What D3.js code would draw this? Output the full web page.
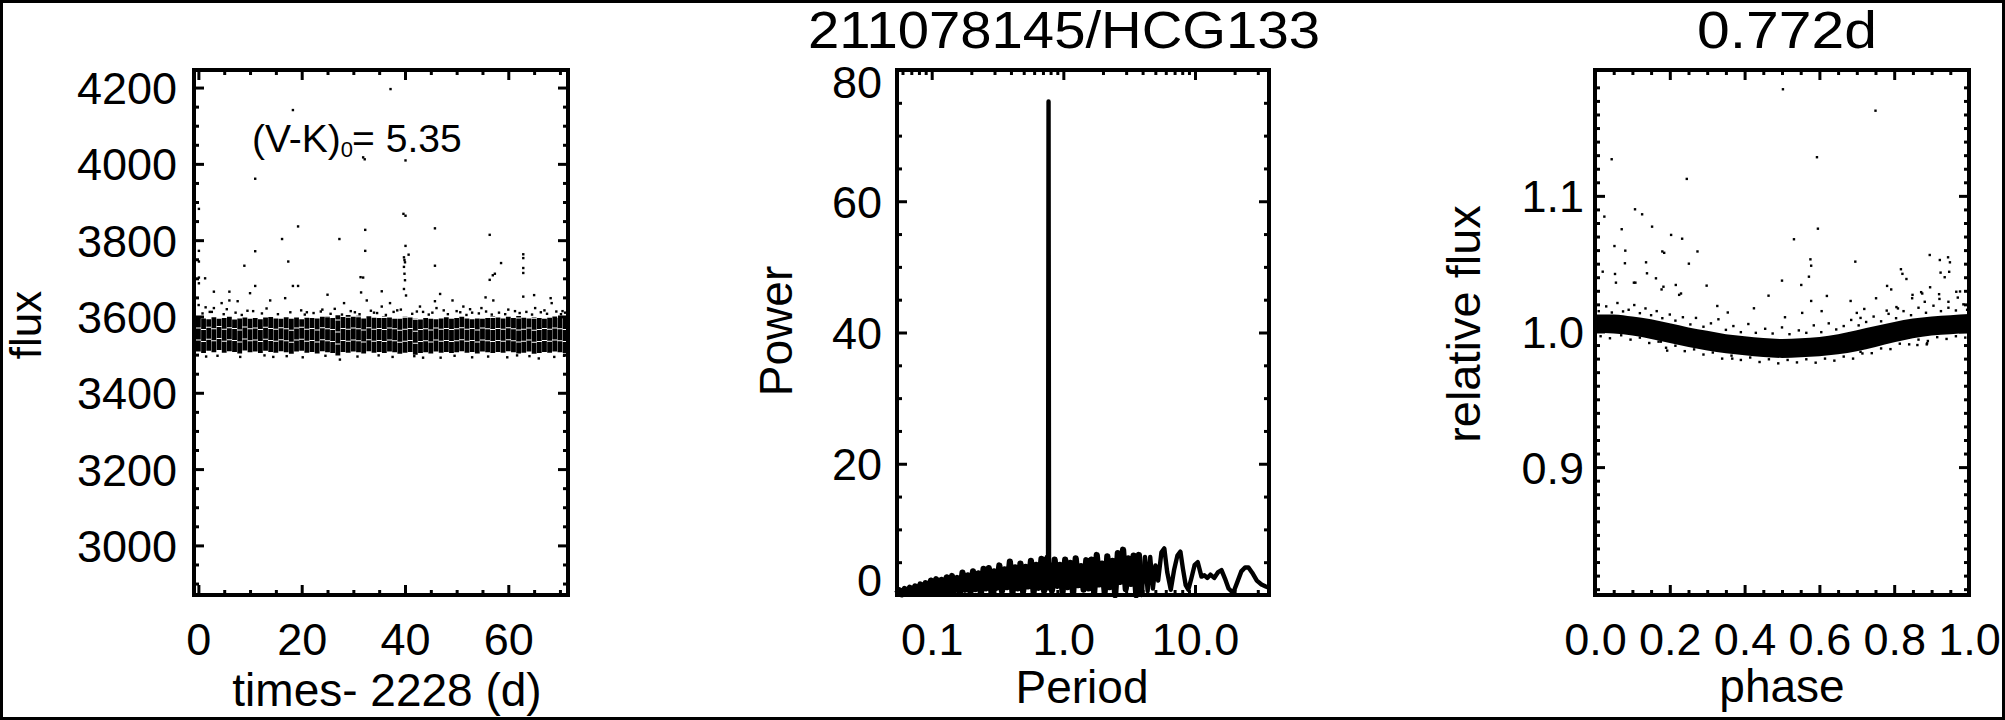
<!DOCTYPE html>
<html><head><meta charset="utf-8">
<script src="https://cdn.jsdelivr.net/npm/d3@7"></script>
<style>
html,body{margin:0;padding:0;background:#fff;}
svg{display:block;}
</style></head><body>
<svg id="c" width="2005" height="720"></svg>
<script>
// ---------------- DATA ----------------
// Panel 1: light curve (flux vs time-2228 d). Dense band per day (low/high edge), plus stray points.
const lcDay = [0,1,2,3,4,5,6,7,8,9,10,11,12,13,14,15,16,17,18,19,20,21,22,23,24,25,26,27,28,29,30,31,32,33,34,35,36,37,38,39,40,41,42,43,44,45,46,47,48,49,50,51,52,53,54,55,56,57,58,59,60,61,62,63,64,65,66,67,68,69,70,71];
const lcBandHi = [3597,3595,3593,3598,3594,3596,3599,3592,3595,3597,3594,3596,3593,3597,3599,3595,3594,3598,3596,3597,3593,3598,3596,3595,3599,3601,3598,3603,3600,3604,3599,3602,3597,3601,3598,3596,3600,3597,3594,3596,3600,3597,3595,3592,3596,3594,3593,3595,3598,3594,3596,3599,3595,3593,3597,3594,3596,3600,3597,3595,3599,3596,3601,3597,3595,3598,3596,3594,3598,3600,3596,3599];
const lcBandLo = [3508,3504,3510,3506,3512,3505,3509,3507,3503,3511,3506,3508,3504,3510,3507,3505,3509,3506,3502,3508,3510,3505,3507,3503,3509,3506,3504,3498,3507,3505,3508,3506,3503,3509,3505,3507,3504,3508,3506,3502,3505,3507,3500,3504,3506,3503,3508,3505,3507,3504,3506,3509,3505,3507,3503,3508,3506,3504,3507,3505,3509,3506,3503,3505,3508,3502,3504,3507,3505,3508,3506,3504];
const lcOutT = [37.2,18.3,31.9,32.2,40.1,11.0,0.1,39.7,40.1,19.3,32.3,45.8,56.4,16.2,27.3,40.1,0.1,11.0,32.3,40.7,39.8,39.9,40.0,62.9,62.9,62.9,62.9,0.1,17.4,58.6,57.4,57.0,56.4,45.8,8.9,0.1,1.3,0.1,31.4,31.9,39.8,39.9,40.0,39.8,40.2,18.3,19.3,11.0,10.0,3.0,6.0,25.0,35.5,46.8,65.0,62.9,55.6,31.5];
const lcOutF = [4196,4141,4017,4012,4009,3961,3882,3869,3864,3836,3827,3831,3814,3803,3803,3785,3772,3771,3772,3762,3755,3748,3742,3763,3753,3727,3714,3744,3744,3740,3712,3708,3696,3733,3733,3702,3700,3687,3703,3702,3730,3712,3695,3672,3655,3680,3680,3680,3661,3665,3665,3657,3666,3659,3656,3652,3650,3663];
const lcEdgeT = [0.05,1.4,3.0,4.5,6.0,7.6,13.9,16.8,28.2,32.6,35.5,37.1,42.9,45.8,46.1,49.2,51.3,54.8,57.1,68.2,68.4,65.2,2.2,9.5,21.0,24.0,29.5,34.0,38.5,43.5,50.0,53.0,60.0,63.5,67.0,70.5,27.4,43.5,65.9,1.5,14.5,53.0,
  0.8,2.6,4.9,5.5,7.2,8.4,10.6,12.3,13.2,15.4,17.8,19.9,20.6,22.3,23.7,25.6,26.4,27.8,30.3,31.2,33.4,34.6,36.3,37.8,39.2,41.4,42.3,44.6,45.3,47.5,48.3,50.7,51.9,52.6,54.3,55.7,56.8,58.2,59.4,61.3,62.2,64.6,66.3,67.5,69.3,70.2,71.0,
  3.7,8.1,12.8,17.1,20.2,24.6,30.8,34.9,37.6,41.8,46.9,49.6,56.1,59.8,61.7,64.1,68.9,70.8];
const lcEdgeF = [3630,3624,3622,3635,3642,3640,3642,3648,3635,3642,3626,3635,3626,3640,3622,3642,3626,3622,3642,3648,3635,3622,3612,3615,3611,3618,3614,3610,3616,3612,3614,3610,3618,3612,3616,3614,3487,3492,3490,3495,3494,3493,
  3608,3612,3606,3619,3610,3604,3614,3608,3621,3606,3611,3616,3605,3609,3613,3607,3620,3605,3611,3606,3615,3609,3604,3612,3618,3607,3613,3605,3610,3616,3606,3611,3604,3619,3608,3613,3605,3610,3606,3614,3609,3605,3611,3607,3613,3606,3610,
  3497,3494,3498,3496,3493,3497,3495,3498,3494,3496,3492,3497,3495,3493,3498,3496,3494,3497];
const lcXTicks = [0,20,40,60];
const lcYTicks = [3000,3200,3400,3600,3800,4000,4200];

// Panel 2: periodogram (power vs period, days)
const perPeriod = [0.0542,0.0568,0.0594,0.0622,0.0652,0.0682,0.0714,0.0748,0.0783,0.0820,0.0859,0.0899,0.0942,0.0986,0.1033,0.1081,0.1132,0.1186,0.1242,0.1300,0.1361,0.1426,0.1493,0.1563,0.1637,0.1714,0.1795,0.1879,0.1968,0.2061,0.2158,0.2259,0.2366,0.2477,0.2594,0.2716,0.2844,0.2979,0.3119,0.3266,0.3420,0.3581,0.3750,0.3926,0.4111,0.4305,0.4508,0.4721,0.4943,0.5176,0.5420,0.5675,0.5943,0.6223,0.6516,0.6823,0.7145,0.7482,0.765,0.772,0.779,0.7834,0.8204,0.8590,0.8995,0.9419,0.9863,1.033,1.081,1.132,1.186,1.242,1.300,1.361,1.426,1.493,1.563,1.637,1.714,1.795,1.879,1.968,2.061,2.158,2.259,2.366,2.477,2.594,2.716,2.844,2.979,3.119,3.266,3.420,3.581,3.750,3.926,4.17,4.37,4.57,4.79,5.01,5.25,5.56,5.85,6.15,6.55,6.95,7.35,7.75,8.1,8.5,8.9,9.4,9.95,10.5,11.2,11.8,12.4,13.1,14.0,15.0,15.9,16.9,18.0,19.5,21.0,22.5,24.0,25.5,27.2,29.5,32.0,34.5,36.4];
const perPower = [0.2,0.7,0.1,0.9,0.2,1.1,0.3,1.3,0.2,1.6,0.4,1.8,0.3,2.2,0.5,2.4,0.3,2.3,0.6,2.7,0.4,2.9,0.7,2.6,0.3,3.4,0.8,3.0,0.5,3.6,0.9,3.3,0.2,4.0,1.0,4.1,0.4,3.6,1.1,4.5,0.6,3.9,1.2,5.1,0.3,4.2,1.0,4.8,0.5,4.3,1.3,5.2,0.4,4.6,1.1,5.5,0.6,5.8,1.0,75.2,1.2,4.9,0.7,5.4,1.4,4.6,0.5,5.4,1.2,4.9,0.2,5.6,1.5,4.4,0.8,5.3,1.0,5.4,0.3,6.1,1.6,4.8,0.4,5.9,1.2,5.2,0.0,6.4,2.0,6.9,0.9,5.6,1.7,6.0,0.0,6.1,0.0,5.8,0.6,5.8,1.0,4.5,2.2,6.5,7.1,3.5,0.8,3.9,6.0,6.6,4.0,1.5,0.8,2.6,4.6,5.0,2.8,3.0,2.6,3.1,2.6,3.5,3.8,2.5,1.0,0.3,2.0,3.6,4.2,4.2,3.4,2.2,1.6,1.3,1.1];
const perXTicks = [0.1,1,10];
const perXLabels = ["0.1","1.0","10.0"];
const perYTicks = [0,20,40,60,80];

// Panel 3: phased light curve (relative flux vs phase), P = 0.772 d
const phBandPh = [0,0.05,0.1,0.15,0.2,0.25,0.3,0.35,0.4,0.45,0.5,0.55,0.6,0.65,0.7,0.75,0.8,0.85,0.9,0.95,1.0];
const phBandHi = [1.0125,1.0125,1.011,1.009,1.006,1.003,1.0005,0.998,0.9965,0.9952,0.9945,0.995,0.996,0.998,1.001,1.004,1.007,1.0095,1.011,1.012,1.0128];
const phBandLo = [0.999,0.9985,0.997,0.9945,0.9915,0.9885,0.986,0.984,0.9825,0.9812,0.9805,0.981,0.9818,0.9832,0.9855,0.9885,0.992,0.995,0.997,0.998,0.9988];
const phOutPh = [0.5025,0.750,0.0446,0.5935,0.2454,0.025,0.107,0.126,0.0714,0.1526,0.596,0.2035,0.233,0.532,0.052,0.0206,0.0535,0.056,0.081,0.080,0.1365,0.139,0.104,0.108,0.163,0.18,0.185,0.183,0.178,0.216,0.251,0.274,0.2985,0.225,0.23,0.327,0.355,0.425,0.464,0.5,0.508,0.5515,0.576,0.578,0.572,0.578,0.554,0.62,0.606,0.696,0.6835,0.70,0.71,0.72,0.7515,0.781,0.792,0.78,0.806,0.81,0.818,0.822,0.8327,0.849,0.848,0.872,0.875,0.8817,0.895,0.896,0.922,0.924,0.935,0.944,0.949,0.947,0.92,0.921,0.966,0.976,0.945,0.97,0.193,0.176,0.367,0.888,0.887,0.862,0.71];
const phOutFx = [1.1786,1.1628,1.127,1.1285,1.1125,1.0847,1.0901,1.0864,1.0754,1.0773,1.0758,1.0712,1.0684,1.068,1.063,1.0441,1.0424,1.036,1.0596,1.0503,1.051,1.0429,1.036,1.036,1.0392,1.059,1.058,1.033,1.031,1.0343,1.050,1.059,1.0338,1.027,1.028,1.0188,1.014,1.0171,1.0264,1.0375,1.0105,1.0343,1.0532,1.0485,1.0404,1.0225,1.0137,1.0262,1.015,1.0515,1.0225,1.0137,1.010,1.0166,1.0245,1.0336,1.031,1.0154,1.018,1.017,1.0459,1.0425,1.0387,1.027,1.0245,1.029,1.028,1.0219,1.0564,1.0326,1.0527,1.0434,1.040,1.0547,1.051,1.044,1.0275,1.024,1.0293,1.0295,1.0219,1.025,0.9859,0.9925,0.980,0.9913,0.9905,0.990,0.985];
const phEdgePh = [0.01,0.03,0.045,0.06,0.075,0.09,0.105,0.12,0.135,0.15,0.165,0.18,0.2,0.215,0.235,0.255,0.27,0.29,0.31,0.33,0.35,0.37,0.39,0.41,0.43,0.455,0.475,0.5,0.52,0.545,0.565,0.585,0.605,0.625,0.645,0.665,0.685,0.705,0.725,0.745,0.765,0.785,0.805,0.825,0.845,0.865,0.885,0.905,0.925,0.945,0.965,0.985,0.995,
  0.015,0.04,0.07,0.095,0.12,0.145,0.17,0.19,0.215,0.24,0.265,0.29,0.315,0.34,0.365,0.39,0.415,0.44,0.465,0.49,0.515,0.54,0.565,0.59,0.615,0.64,0.665,0.69,0.715,0.74,0.765,0.79,0.815,0.84,0.865,0.89,0.915,0.94,0.965,0.99];
const phEdgeFx = [1.0150,1.0185,1.0140,1.0210,1.0148,1.0160,1.0195,1.0135,1.0170,1.0120,1.0150,1.0098,1.0125,1.0080,1.0105,1.0052,1.0100,1.0035,1.0060,1.0090,1.0012,1.0040,0.9995,1.0055,0.9990,1.0020,0.9985,1.0030,0.9980,1.0008,0.9990,1.0045,0.9995,1.0060,1.0015,1.0040,1.0085,1.0045,1.0070,1.0110,1.0075,1.0130,1.0098,1.0150,1.0120,1.0175,1.0138,1.0190,1.0150,1.0175,1.0155,1.0200,1.0160,
  0.9965,0.9950,0.9972,0.9940,0.9955,0.9915,0.9925,0.9880,0.9895,0.9855,0.9868,0.9830,0.9845,0.9800,0.9822,0.9790,0.9808,0.9775,0.9795,0.9765,0.9790,0.9772,0.9795,0.9770,0.9800,0.9785,0.9815,0.9800,0.9838,0.9840,0.9875,0.9870,0.9910,0.9905,0.9940,0.9930,0.9958,0.9945,0.9965,0.9955];
const phXTicks = [0,0.2,0.4,0.6,0.8,1.0];
const phXLabels = ["0.0","0.2","0.4","0.6","0.8","1.0"];
const phYTicks = [0.9,1.0,1.1];
const phYLabels = ["0.9","1.0","1.1"];

const mainTitle = "211078145/HCG133";
const periodTitle = "0.772d";

// ---------------- DRAWING ----------------
const W = 2005, H = 720;
const FONT = '"Liberation Sans", Arial, Helvetica, sans-serif';
const svg = d3.select("#c");
const TOP = 70, BOT = 595;

svg.append("rect").attr("x",1.5).attr("y",1.5).attr("width",W-3).attr("height",H-3)
  .attr("fill","none").attr("stroke","#000").attr("stroke-width",3);

function frame(x, y, o) {
  const g = svg.append("g");
  const [x0,x1] = x.range();
  const style = sel => {
    sel.select(".domain").remove();
    sel.selectAll("line").attr("stroke","#000").attr("stroke-width",3);
    sel.attr("font-family", FONT).attr("font-size", 45);
    sel.selectAll("text").attr("fill","#000");
  };
  const ax = (fn, scale, vals, size, pos, fmt, pad) => {
    const a = fn(scale).tickValues(vals).tickSize(size).tickPadding(pad || 0)
      .tickFormat(fmt || (() => ""));
    return g.append("g").attr("transform", pos).call(a).call(style);
  };
  ax(d3.axisBottom, x, o.xMajor, -10, `translate(0,${BOT})`, (d,i)=>o.xLabels[i], 28);
  ax(d3.axisBottom, x, o.xMinor, -5, `translate(0,${BOT})`);
  ax(d3.axisTop, x, o.xMajor, -10, `translate(0,${TOP})`);
  ax(d3.axisTop, x, o.xMinor, -5, `translate(0,${TOP})`);
  const gl = ax(d3.axisLeft, y, o.yMajor, -10, `translate(${x0},0)`, (d,i)=>o.yLabels[i], o.yPad);
  gl.selectAll("text").attr("dy", null).attr("y", function(d){
    const t = y(d), b = Math.min(Math.max(t + 16, TOP + 27), BOT);
    return b - t;
  });
  ax(d3.axisLeft, y, o.yMinor, -5, `translate(${x0},0)`);
  ax(d3.axisRight, y, o.yMajor, -10, `translate(${x1},0)`);
  ax(d3.axisRight, y, o.yMinor, -5, `translate(${x1},0)`);
  svg.append("rect").attr("x",x0).attr("y",TOP).attr("width",x1-x0).attr("height",BOT-TOP)
    .attr("fill","none").attr("stroke","#000").attr("stroke-width",4);
}

function label(txt, x, y, size, rot, extra) {
  const t = svg.append("text").attr("font-family",FONT).attr("font-size",size)
    .attr("text-anchor","middle").attr("fill","#000").text(txt);
  if (rot) t.attr("transform",`translate(${x},${y}) rotate(-90)`);
  else t.attr("x",x).attr("y",y);
  if (extra) extra(t);
  return t;
}

// ----- Panel 1 -----
const x1s = d3.scaleLinear().domain([-0.85, 71.56]).range([194, 568]);
const y1s = d3.scaleLinear().domain([2870, 4246]).range([BOT, TOP]);
const p1 = svg.append("g");
p1.selectAll("line").data(lcDay).join("line")
  .attr("x1", d=>x1s(d)).attr("x2", d=>x1s(d))
  .attr("y1", (d,i)=>y1s(lcBandLo[i])).attr("y2", (d,i)=>y1s(lcBandHi[i]))
  .attr("stroke","#000").attr("stroke-width",4.8).attr("stroke-dasharray","11,1");
p1.selectAll("rect").data(lcOutT.map((t,i)=>[t,lcOutF[i]]).concat(lcEdgeT.map((t,i)=>[t,lcEdgeF[i]])))
  .join("rect").attr("x",d=>x1s(d[0])-1.2).attr("y",d=>y1s(d[1])-1.2)
  .attr("width",2.4).attr("height",2.4).attr("fill","#000");
frame(x1s, y1s, {
  xMajor: lcXTicks, xLabels: lcXTicks.map(String), xMinor: d3.range(5,71,5).filter(v=>v%20),
  yMajor: lcYTicks, yLabels: lcYTicks.map(String), yMinor: d3.range(2900,4246,50).filter(v=>v%200), yPad: 17
});
label("flux", 41, 325, 44, true);
label("times- 2228 (d)", 387, 706, 46);
const vk = svg.append("text").attr("font-family",FONT).attr("font-size",39).attr("x",252).attr("y",152).attr("fill","#000");
vk.append("tspan").text("(V-K)");
vk.append("tspan").attr("font-size",22).attr("dy",5).text("0");
vk.append("tspan").attr("dy",-5).attr("dx",-1).text("= 5.35");

// ----- Panel 2 -----
const x2s = d3.scaleLog().domain([0.0545, 36.5]).range([897, 1269]);
const y2s = d3.scaleLinear().domain([0, 80]).range([BOT, TOP]);
const perPts = perPeriod.map((p,i)=>[p,perPower[i]]);
const perLine = d3.line().x(d=>x2s(d[0])).y(d=>y2s(d[1]));
svg.append("path").datum(perPts).attr("d", perLine)
  .attr("fill","none").attr("stroke","#000").attr("stroke-width",4.4).attr("stroke-linejoin","round");
// dense short-period forest drawn heavier (it prints as a solid band in the original)
[perPts.slice(0,58), perPts.slice(61,97)].forEach(seg => {
  svg.append("path").datum(seg).attr("d", perLine)
    .attr("fill","none").attr("stroke","#000").attr("stroke-width",6.2).attr("stroke-linejoin","round");
});
frame(x2s, y2s, {
  xMajor: perXTicks, xLabels: perXLabels,
  xMinor: x2s.ticks().filter(v => !perXTicks.some(m => Math.abs(m-v)/m < 1e-6)),
  yMajor: perYTicks, yLabels: perYTicks.map(String), yMinor: d3.range(5,80,5).filter(v=>v%20), yPad: 15
});
label("Power", 792, 331, 46, true);
label("Period", 1082, 703, 46);
label(mainTitle, 808, 48, 52, false, t=>t.attr("text-anchor","start").attr("textLength",512).attr("lengthAdjust","spacingAndGlyphs"));

// ----- Panel 3 -----
const x3s = d3.scaleLinear().domain([0, 1]).range([1595, 1969]);
const y3s = d3.scaleLinear().domain([0.8057, 1.1928]).range([BOT, TOP]);
svg.append("path").datum(phBandPh.map((p,i)=>[p,phBandLo[i],phBandHi[i]]))
  .attr("d", d3.area().x(d=>x3s(d[0])).y0(d=>y3s(d[1])).y1(d=>y3s(d[2])).curve(d3.curveMonotoneX))
  .attr("fill","#000");
svg.append("g").selectAll("rect").data(phOutPh.map((p,i)=>[p,phOutFx[i]]).concat(phEdgePh.map((p,i)=>[p,phEdgeFx[i]])))
  .join("rect").attr("x",d=>x3s(d[0])-1.2).attr("y",d=>y3s(d[1])-1.2)
  .attr("width",2.4).attr("height",2.4).attr("fill","#000");
frame(x3s, y3s, {
  xMajor: phXTicks, xLabels: phXLabels, xMinor: d3.range(0.05,1,0.05).filter(v=>Math.abs(v*5-Math.round(v*5))>1e-6),
  yMajor: phYTicks, yLabels: phYLabels, yMinor: d3.range(0.81,1.19,0.01).filter(v=>Math.abs(v*10-Math.round(v*10))>1e-6), yPad: 11
});
label("relative flux", 1480, 324, 47, true);
label("phase", 1782, 702, 46);
label(periodTitle, 1787, 48, 52, false, t=>t.attr("textLength",180).attr("lengthAdjust","spacingAndGlyphs"));
</script></body></html>
